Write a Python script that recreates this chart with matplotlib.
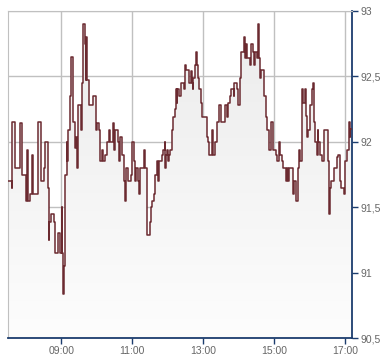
import numpy as np
import matplotlib.pyplot as plt
from matplotlib.ticker import FuncFormatter

# minutes after midnight where the price changes, and the price from there on
minuten = [450, 456, 457, 462, 471, 473, 480, 482, 483, 487, 491, 493, 500, 501, 506, 510,
           513, 518, 519, 520, 522, 527, 529, 535, 537, 541, 542, 543, 545,
           547, 549, 550, 551, 554, 557, 560, 563, 565, 567, 568, 573, 575, 577, 580, 581,
           582, 584, 587, 593, 598, 600, 603, 605, 609, 611, 614, 618, 621, 623, 627, 629,
           631, 635, 637, 639,
           641, 643, 646, 648, 649, 652, 657, 660, 662, 665, 667, 669, 671, 673, 680, 682,
           685, 689, 691, 693, 696, 699, 701, 703, 705, 710, 712, 715, 716, 717, 719, 720,
           722, 724, 727, 729, 732, 733, 735,
           736, 739, 743, 747, 749, 751, 755, 759, 761, 762, 763, 765, 767, 769, 771, 773,
           776, 778, 786, 788, 790, 794, 796, 799, 803, 807, 810, 817, 820, 822, 825, 827,
           831, 832, 836, 839, 841, 844, 848, 850, 852, 854, 858, 860, 863, 866, 868, 871,
           872, 874, 875, 878, 882, 886, 888, 891, 895, 898, 902, 905, 907, 910, 913, 915,
           919, 921, 923,
           925, 931, 933, 936, 940, 942, 943, 947, 949, 951, 954, 955, 956, 960, 963, 965,
           967, 969, 972, 973, 974, 977, 980, 983, 990, 992, 993, 996, 1000, 1005, 1008,
           1011, 1013, 1017, 1019, 1022, 1026, 1027, 1028]
kurs = [91.70, 91.65, 92.15, 91.80, 92.14, 91.75, 91.55, 91.94, 91.55, 91.60, 91.90, 91.60,
        91.90, 92.15, 91.70, 91.80, 92.00, 91.65, 91.25, 91.39, 91.45, 91.39, 91.15, 91.30,
        91.15, 91.50, 91.15, 90.84, 91.05,
        91.75, 92.00, 91.85, 92.09, 92.35, 92.65, 92.15, 91.95, 92.04, 91.80, 92.28, 92.09,
        92.45, 92.90, 92.75, 92.47, 92.80, 92.47, 92.28, 92.35, 92.09, 92.14, 92.09, 91.85,
        91.94, 91.85, 91.90, 92.00, 92.09, 92.00, 92.14, 91.94, 92.09, 92.00, 91.85, 92.04,
        92.04, 91.90, 91.70, 91.55, 91.80, 91.70, 91.75, 92.00, 91.85, 91.70, 91.80, 91.70,
        91.60, 91.80, 91.94, 91.80, 91.29, 91.39, 91.50, 91.55, 91.60, 91.75, 91.85, 91.70,
        91.85, 91.90, 91.94, 92.00, 91.80, 91.90, 91.94, 91.85, 91.90, 91.94, 92.09, 92.19,
        92.25, 92.40, 92.30,
        92.40, 92.35, 92.45, 92.40, 92.59, 92.55, 92.45, 92.54, 92.45, 92.40, 92.49, 92.59,
        92.69, 92.59, 92.49, 92.40, 92.30, 92.19, 92.04, 92.00, 91.90, 92.09, 91.90, 92.00,
        92.15, 92.28, 92.15, 92.28, 92.19, 92.30, 92.35, 92.40,
        92.35, 92.45, 92.40, 92.28, 92.49, 92.69, 92.80, 92.64, 92.75, 92.64, 92.59, 92.75,
        92.69, 92.59, 92.69, 92.64, 92.90, 92.64, 92.49, 92.55, 92.35, 92.19, 92.09, 91.94,
        92.15, 91.94, 91.90, 91.85, 92.00, 91.90, 91.85, 91.80, 91.70, 91.80, 91.70,
        91.80, 91.60, 91.70, 91.55, 91.80, 91.94, 91.85, 92.40, 92.30, 92.40, 92.20, 92.04,
        92.09, 92.28, 92.40, 92.45, 92.15, 92.00, 91.90, 92.09, 92.00, 91.90, 91.85, 92.09,
        91.85, 91.45, 91.65, 91.70, 91.80, 91.88, 91.90, 91.70, 91.65, 91.60, 91.85, 91.94,
        92.15, 92.04, 92.10]
ende = 1031

x_ticks = [540, 660, 780, 900, 1020]
y_ticks = [90.5, 91, 91.5, 92, 92.5, 93]

x = np.array(minuten + [ende], dtype=float)
y = np.array(kurs + [kurs[-1]])

navy = '#1c3d6e'
grau = '#c0c0c0'

fig = plt.figure(figsize=(3.9, 3.64), dpi=100)
ax = fig.add_axes([8/390, 1 - 338/364, 344/390, 327/364])

ax.set_xlim(450, ende)
ax.set_ylim(90.5, 93)

# grey gradient under the line
fill = ax.fill_between(x, y, 90.5, step='post', facecolor='none', edgecolor='none')
grad = np.linspace(0, 1, 256).reshape(-1, 1)
img = ax.imshow(grad, cmap=plt.matplotlib.colors.LinearSegmentedColormap.from_list(
    'g', ['#fdfdfd', '#ebebeb']), origin='lower', aspect='auto',
    extent=[450, ende, 90.5, 93], zorder=1)
img.set_clip_path(fill.get_paths()[0], transform=ax.transData)

ax.step(x, y, where='post', color='#6b2a30', lw=1.1, zorder=3)

ax.set_xticks(x_ticks)
ax.set_yticks(y_ticks)
ax.xaxis.set_major_formatter(FuncFormatter(lambda v, p: '%02d:%02d' % (v // 60, v % 60)))
ax.yaxis.set_major_formatter(FuncFormatter(lambda v, p: ('%g' % v).replace('.', ',')))
ax.grid(True, color=grau, lw=1, zorder=0)
ax.set_axisbelow(True)

ax.yaxis.tick_right()
ax.tick_params(axis='both', direction='out', length=4, width=1, color=navy,
               labelcolor='#666666', labelsize=7.5, pad=2)
for lab in ax.get_xticklabels() + ax.get_yticklabels():
    lab.set_fontfamily('Liberation Sans')

ax.spines['left'].set_color(grau)
ax.spines['top'].set_color(grau)
ax.spines['right'].set_color(navy)
ax.spines['bottom'].set_color(navy)
ax.spines['right'].set_linewidth(1.3)
ax.spines['bottom'].set_linewidth(1.3)

fig.savefig('out.png', dpi=100)
